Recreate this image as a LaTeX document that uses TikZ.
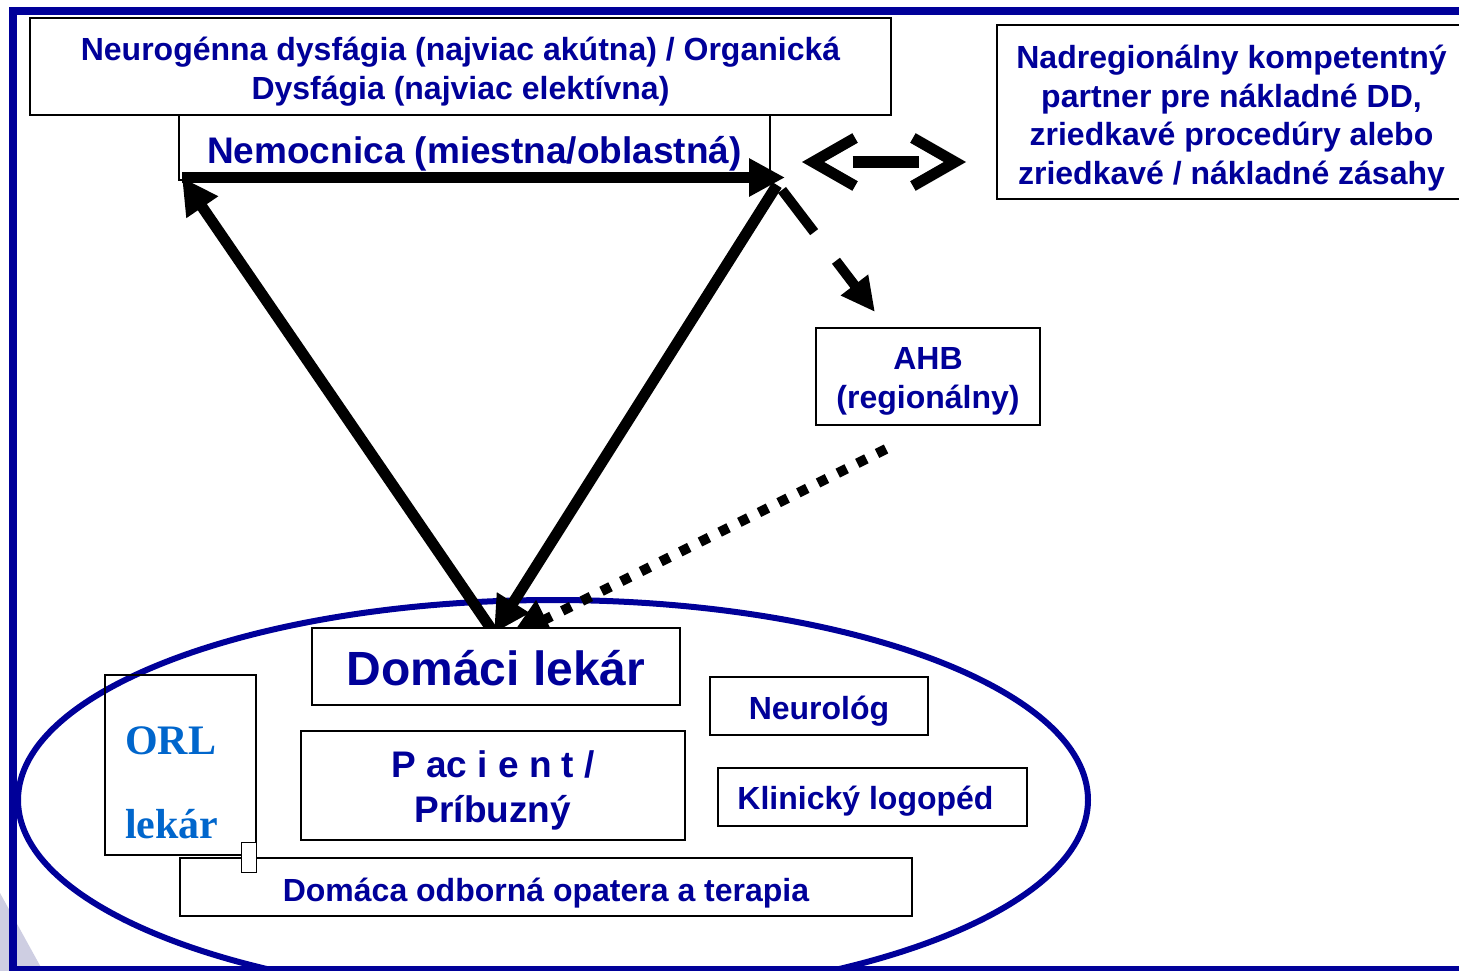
\documentclass[tikz,border=0pt]{standalone}
\usepackage{fontspec}
\setmainfont{Liberation Sans}
\newfontfamily\serifrm{Liberation Serif}
\usetikzlibrary{arrows.meta}
\definecolor{dblue}{RGB}{0,0,153}
\definecolor{orlblue}{RGB}{0,102,204}
\definecolor{lav}{RGB}{206,206,226}
\begin{document}
\begin{tikzpicture}[x=1pt,y=-1pt,
  box/.style={draw=black, line width=2pt, fill=white, inner sep=0pt},
  boxtext/.style={text=dblue, align=center, inner sep=0pt, yshift=-5pt,
    font=\fontsize{32}{38.5}\selectfont\bfseries},
  bigtext/.style={boxtext, font=\fontsize{37}{45}\selectfont\bfseries},
  thickarrow/.style={line width=11pt, -{Triangle[length=36pt,width=36pt]}},
  dasharrow/.style={line width=10pt, dash pattern=on 53pt off 36pt, -{Triangle[length=34pt,width=32pt]}},
  dotarrow/.style={line width=10pt, dash pattern=on 10pt off 12pt, -{Triangle[length=40pt,width=40pt]}},
  dblarrow/.style={line width=11pt, {Straight Barb[length=42pt,width=48pt]}-{Straight Barb[length=42pt,width=48pt]},
    dash pattern=on 66pt off 86pt, dash phase=118pt},
  orltext/.style={text=orlblue, anchor=base west, inner sep=0pt, font=\fontsize{42}{50}\selectfont\serifrm\bfseries}
]
\useasboundingbox (0,0) rectangle (1459,971);
\clip (0,0) rectangle (1459,971);
\fill[white] (0,0) rectangle (1459,971);
\fill[lav] (0,893) -- (43,971) -- (0,971) -- cycle;
\draw[dblue, line width=8pt] (12.5,11) rectangle (1500,970);
\draw[dblue, line width=6pt] (553,800) ellipse [x radius=535, y radius=200];

% top boxes
\node[box, minimum width=861pt, minimum height=97pt,
  label={[boxtext]center:{Neurogénna dysfágia (najviac akútna) / Organická\\Dysfágia (najviac elektívna)}}] (hdr) at (460.5,66.5) {};
\node[box, minimum width=591pt, minimum height=65pt,
  label={[bigtext, yshift=-1pt]center:{Nemocnica (miestna/oblastná)}}] (hosp) at (474.5,147.5) {};
\node[box, minimum width=469pt, minimum height=174pt,
  label={[boxtext, yshift=-1pt]center:{Nadregionálny kompetentný\\partner pre nákladné DD,\\zriedkavé procedúry alebo\\zriedkavé / nákladné zásahy}}] (nadreg) at (1231.5,112) {};
\node[box, minimum width=224pt, minimum height=97pt,
  label={[boxtext]center:{AHB\\(regionálny)}}] (ahb) at (928,376.5) {};

% connector end points
\coordinate (A) at (182,177.5);
\coordinate (B) at (785,177.5);
\coordinate (Bs) at (777,185);
\coordinate (C) at (494,633);
\coordinate (D1) at (782,190);
\coordinate (D2) at (875,312);
\coordinate (E1) at (886,449);
\coordinate (E2) at (510,637);
\coordinate (L) at (802,162);
\coordinate (R) at (966,162);

\draw[thickarrow] (A) -- (B);
\draw[thickarrow] (C) -- (A);
\draw[thickarrow] (Bs) -- (C);
\draw[dasharrow] (D1) -- (D2);
\draw[dotarrow] (E1) -- (E2);
\draw[dblarrow] (L) -- (R);

% bottom boxes
\node[box, minimum width=368pt, minimum height=77pt,
  label={[boxtext, yshift=3pt, font=\fontsize{48}{58}\selectfont\bfseries]center:{Domáci lekár}}] (gp) at (496,666.5) {};
\node[box, minimum width=218pt, minimum height=58pt,
  label={[boxtext]center:{Neurológ}}] (neuro) at (819,706) {};
\node[box, minimum width=384pt, minimum height=109pt,
  label={[bigtext]center:{P ac i e n t /\\Príbuzný}}] (pat) at (493,785.5) {};
\node[box, minimum width=309pt, minimum height=58pt,
  label={[boxtext, xshift=-7pt, yshift=1pt]center:{Klinický logopéd}}] (logo) at (872.5,797) {};
\node[box, fill=none, minimum width=151pt, minimum height=180pt] (orl) at (180.5,765) {};
\node[orltext] (orl1) at (125,754) {ORL};
\node[orltext] (orl2) at (125,838) {lekár};
\node[box, minimum width=732pt, minimum height=58pt,
  label={[boxtext, yshift=-1pt]center:{Domáca odborná opatera a terapia}}] (home) at (546,887) {};
\node[draw=black, line width=1pt, fill=white, minimum width=15pt, minimum height=30pt, inner sep=0pt] (handle) at (248.5,857) {};
\end{tikzpicture}
\end{document}
